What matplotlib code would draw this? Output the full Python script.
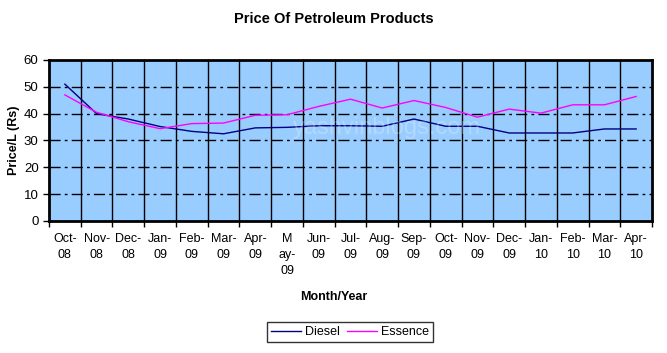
import numpy as np
import matplotlib.pyplot as plt

plt.rcParams['font.family'] = ['Liberation Sans', 'DejaVu Sans']

months = ['Oct-\n08', 'Nov-\n08', 'Dec-\n08', 'Jan-\n09', 'Feb-\n09', 'Mar-\n09', 'Apr-\n09',
          'M\nay-\n09', 'Jun-\n09', 'Jul-\n09', 'Aug-\n09', 'Sep-\n09', 'Oct-\n09', 'Nov-\n09',
          'Dec-\n09', 'Jan-\n10', 'Feb-\n10', 'Mar-\n10', 'Apr-\n10']
diesel = [51.0, 40.0, 38.0, 35.2, 33.4, 32.5, 34.7, 34.9, 35.5, 35.5,
          35.3, 38.0, 35.3, 35.3, 32.8, 32.8, 32.8, 34.3, 34.3]
essence = [47.0, 40.5, 37.0, 34.4, 36.3, 36.5, 39.4, 39.6, 42.7, 45.4,
           42.1, 44.9, 42.3, 38.7, 41.7, 40.2, 43.3, 43.3, 46.4]

x = np.arange(len(months))

fig = plt.figure(figsize=(6.67, 3.53), dpi=100)
ax = fig.add_axes([49 / 667, 1 - 221 / 353, 603 / 667, 161 / 353])
ax.set_facecolor('#99CCFF')

ax.plot(x, diesel, color='#000080', linewidth=1, label='Diesel')
ax.plot(x, essence, color='#FF00FF', linewidth=1, label='Essence')

ax.set_xlim(-0.5, len(months) - 0.5)
ax.set_ylim(0, 60)
ax.set_yticks(range(0, 61, 10))
ax.set_xticks(x)
ax.set_xticklabels(months, fontsize=9, linespacing=1.4)
ax.tick_params(axis='x', length=0, pad=9)
ax.set_xticks(np.arange(-0.5, len(months)), minor=True)
ax.tick_params(axis='x', which='minor', length=4, width=1)
ax.tick_params(axis='y', labelsize=9.5, length=4, width=1)

for v in range(10, 60, 10):
    ax.axhline(v, color='black', linewidth=1, linestyle=(0, (8, 3, 2, 3)), zorder=1)
for b in np.arange(0.5, len(months) - 1):
    ax.axvline(b, color='black', linewidth=1, zorder=1)
for s in ax.spines.values():
    s.set_linewidth(2)

ax.text(0.56, 0.58, 'yashvinblogs.com', transform=ax.transAxes, ha='center', va='center',
        fontsize=17, color='white', alpha=0.25)

fig.suptitle('Price Of Petroleum Products', x=0.5, y=0.965, fontsize=10.5, fontweight='bold')
ax.set_ylabel('Price/L (Rs)', fontsize=9, fontweight='bold', labelpad=3)
fig.text(0.5, 1 - 297 / 353, 'Month/Year', ha='center', va='center', fontsize=9, fontweight='bold')

leg = fig.legend(loc='center', bbox_to_anchor=(350 / 667, 1 - 332 / 353), ncol=2, fontsize=9,
                 frameon=True, fancybox=False, edgecolor='black', handlelength=2.4,
                 columnspacing=0.6, handletextpad=0.3, borderpad=0.3)
leg.get_frame().set_linewidth(1)

fig.savefig('out.png', dpi=100)
